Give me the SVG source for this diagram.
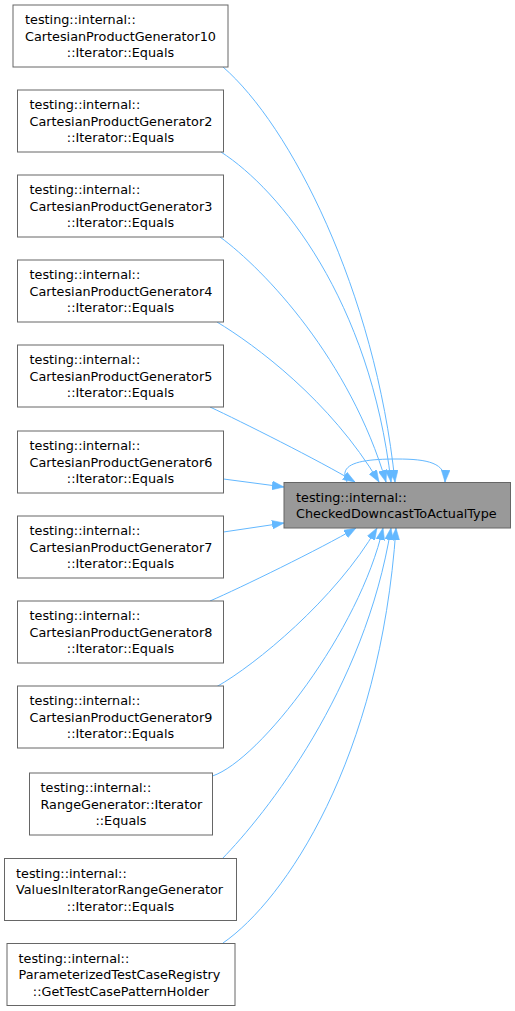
<svg xmlns="http://www.w3.org/2000/svg" width="515" height="1011" viewBox="0 0 515 1011">
<style>
.n rect{fill:#fff;stroke:#666;stroke-width:1}
.t rect{fill:#999;stroke:#666;stroke-width:1}
text{font-family:"DejaVu Sans",sans-serif;font-size:12.8px;fill:#000}
.c{text-anchor:middle}
.e path{fill:none;stroke:#63b8ff;stroke-width:1;marker-end:url(#ah)}
</style>
<defs>
<marker id="ah" markerUnits="userSpaceOnUse" markerWidth="12" markerHeight="9" viewBox="0 0 11 8" refX="11" refY="4" orient="auto">
<path d="M0,0 L11,4 L0,8 z" fill="#63b8ff" stroke="#63b8ff" stroke-width="0.5"/>
</marker>
</defs>
<g id="edges" class="e">
<path d="M223,67 C290,125 375,290 395,482"/>
<path d="M221,152 C280,190 370,300 391,482"/>
<path d="M220,237 C265,270 350,360 386,482"/>
<path d="M217,322 C255,345 330,400 379,482"/>
<path d="M210,407 C240,421 320,461 355,482"/>
<path d="M223.5,479 L284,487"/>
<path d="M223.5,532 L284,523"/>
<path d="M210,601 C240,588 320,549 356,528"/>
<path d="M217,686.5 C255,665 335,600 377,528"/>
<path d="M212.5,776 C260,760 360,630 383,528"/>
<path d="M222,859 C265,815 365,690 391,528"/>
<path d="M223,943 C285,900 380,760 396,528"/>
<path d="M347,482 C337,463 362,459 397,459 C428,459 446,463 445,482"/>
</g>
<g id="target" class="t">
<rect x="284" y="482.5" width="226.5" height="45.5"/>
<text x="296" y="501.5">testing::internal::</text>
<text x="296" y="518">CheckedDowncastToActualType</text>
</g>
<g id="cpg10" class="n">
<rect x="13" y="5" width="215" height="62"/>
<text x="25" y="24">testing::internal::</text>
<text x="25" y="40.5">CartesianProductGenerator10</text>
<text class="c" x="120.5" y="57">::Iterator::Equals</text>
</g>
<g id="cpg2" class="n">
<rect x="17.5" y="90" width="206" height="62"/>
<text x="29.5" y="109">testing::internal::</text>
<text x="29.5" y="125.5">CartesianProductGenerator2</text>
<text class="c" x="120.5" y="142">::Iterator::Equals</text>
</g>
<g id="cpg3" class="n">
<rect x="17.5" y="175" width="206" height="62"/>
<text x="29.5" y="194">testing::internal::</text>
<text x="29.5" y="210.5">CartesianProductGenerator3</text>
<text class="c" x="120.5" y="227">::Iterator::Equals</text>
</g>
<g id="cpg4" class="n">
<rect x="17.5" y="260" width="206" height="62"/>
<text x="29.5" y="279">testing::internal::</text>
<text x="29.5" y="295.5">CartesianProductGenerator4</text>
<text class="c" x="120.5" y="312">::Iterator::Equals</text>
</g>
<g id="cpg5" class="n">
<rect x="17.5" y="345" width="206" height="62"/>
<text x="29.5" y="364">testing::internal::</text>
<text x="29.5" y="380.5">CartesianProductGenerator5</text>
<text class="c" x="120.5" y="397">::Iterator::Equals</text>
</g>
<g id="cpg6" class="n">
<rect x="17.5" y="431" width="206" height="62"/>
<text x="29.5" y="450">testing::internal::</text>
<text x="29.5" y="466.5">CartesianProductGenerator6</text>
<text class="c" x="120.5" y="483">::Iterator::Equals</text>
</g>
<g id="cpg7" class="n">
<rect x="17.5" y="516" width="206" height="62"/>
<text x="29.5" y="535">testing::internal::</text>
<text x="29.5" y="551.5">CartesianProductGenerator7</text>
<text class="c" x="120.5" y="568">::Iterator::Equals</text>
</g>
<g id="cpg8" class="n">
<rect x="17.5" y="601" width="206" height="62"/>
<text x="29.5" y="620">testing::internal::</text>
<text x="29.5" y="636.5">CartesianProductGenerator8</text>
<text class="c" x="120.5" y="653">::Iterator::Equals</text>
</g>
<g id="cpg9" class="n">
<rect x="17.5" y="686" width="206" height="62"/>
<text x="29.5" y="705">testing::internal::</text>
<text x="29.5" y="721.5">CartesianProductGenerator9</text>
<text class="c" x="120.5" y="738">::Iterator::Equals</text>
</g>
<g id="range" class="n">
<rect x="29.5" y="773" width="183" height="62"/>
<text x="40.5" y="792">testing::internal::</text>
<text x="40.5" y="808.5">RangeGenerator::Iterator</text>
<text class="c" x="121" y="825">::Equals</text>
</g>
<g id="values" class="n">
<rect x="4.5" y="858.5" width="232" height="62"/>
<text x="16" y="877.5">testing::internal::</text>
<text x="16" y="894">ValuesInIteratorRangeGenerator</text>
<text class="c" x="120.5" y="910.5">::Iterator::Equals</text>
</g>
<g id="param" class="n">
<rect x="7" y="943.5" width="228" height="62"/>
<text x="18.5" y="962.5">testing::internal::</text>
<text x="18.5" y="979">ParameterizedTestCaseRegistry</text>
<text class="c" x="121" y="995.5">::GetTestCasePatternHolder</text>
</g>
</svg>
